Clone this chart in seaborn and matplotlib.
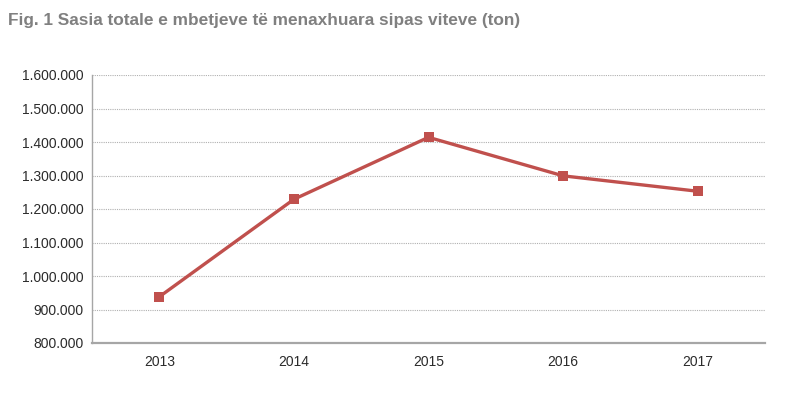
import matplotlib
matplotlib.use("Agg")
import matplotlib.pyplot as plt
import seaborn as sns
import pandas as pd
from matplotlib.ticker import FuncFormatter

years = ["2013", "2014", "2015", "2016", "2017"]
tonnes = [938000, 1229000, 1414000, 1299000, 1253000]
title = "Fig. 1 Sasia totale e mbetjeve të menaxhuara sipas viteve (ton)"

sns.set_theme(style="white")
plt.rcParams['font.family'] = ['Liberation Sans', 'DejaVu Sans']

df = pd.DataFrame({"year": years, "tonnes": tonnes})

fig = plt.figure(figsize=(8, 3.99), dpi=100)
ax = fig.add_axes([92/800, 1-343/399, (765-92)/800, (343-75)/399])

sns.lineplot(data=df, x="year", y="tonnes", ax=ax, color="#C0504D",
             linewidth=2.4, marker="s", markersize=6.5, markeredgewidth=0,
             sort=False)

ax.set_xlim(-0.5, 4.5)
ax.set_ylim(800000, 1600000)
ax.set_yticks(range(800000, 1600001, 100000))
ax.yaxis.set_major_formatter(FuncFormatter(lambda v, p: f"{int(v):,}".replace(",", ".")))
ax.grid(axis="y", color="#B0B0B0", linestyle=(0, (1, 1)), linewidth=0.8)
ax.set_axisbelow(True)
ax.set_xlabel("")
ax.set_ylabel("")
for s in ["top", "right"]:
    ax.spines[s].set_visible(False)
ax.spines["left"].set_color("#A6A6A6")
ax.spines["left"].set_linewidth(1.0)
ax.spines["bottom"].set_color("#A6A6A6")
ax.spines["bottom"].set_linewidth(1.6)
ax.tick_params(axis="both", length=0, labelsize=10, colors="#2B2B2B", pad=6)
ax.tick_params(axis="x", pad=9)

fig.text(8/800, 1-20/399, title, fontsize=12.4, fontweight="bold", color="#808080",
         va="center", ha="left")

fig.savefig("out.png", dpi=100)
